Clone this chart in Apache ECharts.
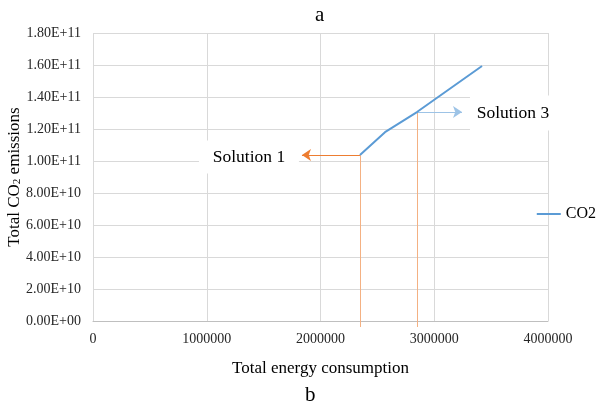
<!DOCTYPE html>
<html>
<head>
<meta charset="utf-8">
<script src="https://cdn.jsdelivr.net/npm/echarts@6/dist/echarts.min.js"></script>
<style>
  html, body { margin: 0; padding: 0; background: #fff; }
  #main { width: 603px; height: 405px; }
</style>
</head>
<body>
<div id="main"></div>
<script>
// 数据
const energy = [2347000, 2567000, 2848000, 3420000];
const co2 = [1.037e11, 1.18e11, 1.306e11, 1.594e11];
const xTicks = [0, 1000000, 2000000, 3000000, 4000000];
const yTicks = [0, 2e10, 4e10, 6e10, 8e10, 1e11, 1.2e11, 1.4e11, 1.6e11, 1.8e11];

// 标注
const sol1Label = 'Solution 1';
const sol1At = [1371000, 1.025e11];
const sol1ArrowEnd = 1837000;
const sol3Label = 'Solution 3';
const sol3At = [3692000, 1.3e11];
const sol3ArrowEnd = 3244000;
const dropTo = -3.75e9; // 竖线略微伸到轴下方

const serif = '"Liberation Serif", "DejaVu Serif", serif';

function sci(v) {
    const parts = v.toExponential(2).toUpperCase().split('E');
    let exp = parseInt(parts[1], 10);
    const sign = exp < 0 ? '-' : '+';
    exp = Math.abs(exp);
    return parts[0] + 'E' + sign + (exp < 10 ? '0' + exp : exp);
}

const p1 = [energy[0], co2[0]];
const p3 = [energy[2], co2[2]];

const chart = echarts.init(document.getElementById('main'));
chart.setOption({
    animation: false,
    textStyle: { fontFamily: serif },
    title: [
        { text: 'a', left: 310, top: 0, textStyle: { fontFamily: serif, fontWeight: 'normal', fontSize: 21, color: '#000' } },
        { text: 'b', left: 300, top: 380, textStyle: { fontFamily: serif, fontWeight: 'normal', fontSize: 21, color: '#000' } }
    ],
    legend: {
        data: ['CO2'],
        orient: 'vertical',
        right: 2,
        top: 201,
        icon: 'rect',
        itemWidth: 24,
        itemHeight: 2,
        itemGap: 6,
        textStyle: { fontFamily: serif, fontSize: 16, color: '#000' }
    },
    grid: { left: 93, right: 55, top: 33, bottom: 84, outerBoundsMode: 'none', containLabel: false },
    xAxis: {
        type: 'value',
        min: xTicks[0],
        max: xTicks[xTicks.length - 1],
        interval: 1000000,
        name: 'Total energy consumption',
        nameLocation: 'middle',
        nameGap: 39,
        nameMoveOverlap: false,
        nameTextStyle: { fontFamily: serif, fontSize: 17, color: '#000' },
        axisLine: { show: true, lineStyle: { color: '#bfbfbf' } },
        axisTick: { show: false },
        axisLabel: { fontFamily: serif, fontSize: 14, color: '#262626', margin: 11, formatter: v => String(v) },
        splitLine: { show: true, lineStyle: { color: '#d9d9d9' } }
    },
    yAxis: {
        type: 'value',
        min: yTicks[0],
        max: yTicks[yTicks.length - 1],
        interval: 2e10,
        name: 'Total CO{sub|2} emissions',
        nameLocation: 'middle',
        nameGap: 70,
        nameMoveOverlap: false,
        nameTextStyle: {
            fontFamily: serif, fontSize: 17, color: '#000',
            rich: { sub: { fontFamily: serif, fontSize: 11, color: '#000', padding: [6, 0, 0, 0] } }
        },
        axisLine: { show: false },
        axisTick: { show: false },
        axisLabel: { fontFamily: serif, fontSize: 14, color: '#262626', margin: 12, formatter: sci },
        splitLine: { show: true, lineStyle: { color: '#d9d9d9' } }
    },
    series: [
        {
            name: 'CO2',
            type: 'line',
            data: energy.map((x, i) => [x, co2[i]]),
            showSymbol: false,
            symbol: 'none',
            lineStyle: { color: '#5b9bd5', width: 2 },
            itemStyle: { color: '#5b9bd5' },
            z: 3
        },
        {
            name: 'guides',
            type: 'lines',
            coordinateSystem: 'cartesian2d',
            clip: false,
            silent: true,
            symbol: ['none', 'arrow'],
            symbolSize: 9,
            lineStyle: { width: 1, opacity: 1 },
            data: [
                { coords: [p1, [p1[0], dropTo]], symbol: ['none', 'none'], lineStyle: { color: '#f4b183' } },
                { coords: [p3, [p3[0], dropTo]], symbol: ['none', 'none'], lineStyle: { color: '#f4b183' } },
                { coords: [p1, [sol1ArrowEnd, p1[1]]], lineStyle: { color: '#ed7d31' } },
                { coords: [p3, [sol3ArrowEnd, p3[1]]], lineStyle: { color: '#9dc3e6' } }
            ],
            z: 2
        },
        {
            name: 'notes',
            type: 'scatter',
            data: [],
            symbolSize: 0,
            markPoint: {
                silent: true,
                symbol: 'rect',
                itemStyle: { color: '#fff' },
                label: { show: true, position: 'inside', fontFamily: serif, fontSize: 17.5, color: '#000' },
                data: [
                    { coord: sol1At, symbolSize: [100, 33], value: sol1Label, label: { formatter: sol1Label } },
                    { coord: sol3At, symbolSize: [86, 35], value: sol3Label, label: { formatter: sol3Label } }
                ]
            },
            z: 4
        }
    ]
});
</script>
</body>
</html>
